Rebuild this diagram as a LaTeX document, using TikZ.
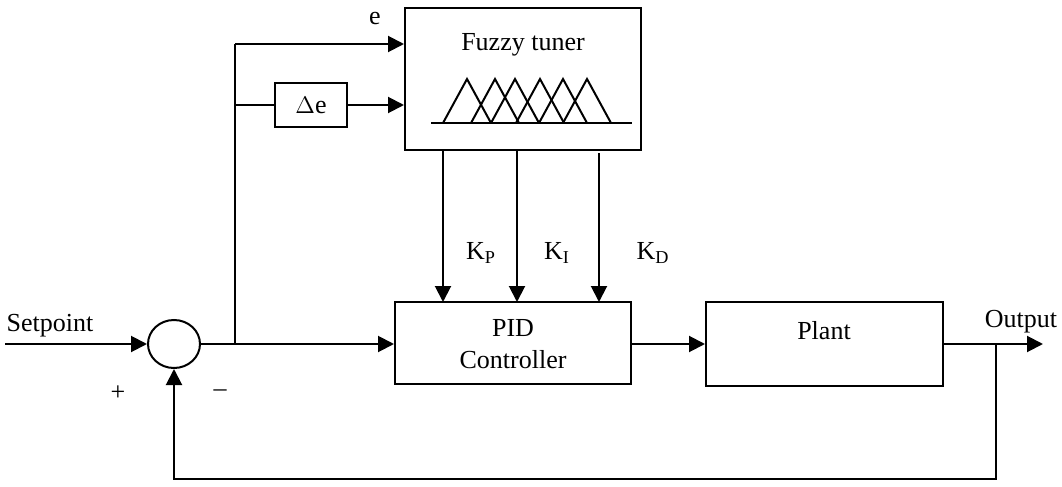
\documentclass[tikz,border=0pt]{standalone}
\usepackage{fontspec}
\setmainfont{Liberation Serif}
\usetikzlibrary{arrows.meta,shapes.geometric}
\begin{document}
\begin{tikzpicture}[x=0.5pt,y=-0.5pt,
  every node/.style={font=\fontsize{13}{15}\selectfont, inner sep=0pt},
  sig/.style={line width=1pt, -{Triangle[length=8pt,width=8pt]}},
  ln/.style={line width=1pt},
  mf/.style={line width=1pt}]
\useasboundingbox (0,0) rectangle (1062,487);
% boxes
\node[draw, line width=1pt, minimum width=118pt, minimum height=71pt] (fz) at (523,79) {};
\node (fzt) at (523,45) {Fuzzy tuner};
\node[draw, line width=1pt, minimum width=36pt, minimum height=22pt] (de) at (311,105) {$\Delta$e};
\node[draw, line width=1pt, minimum width=118pt, minimum height=41pt] (pid) at (513,342.5) {};
\node[align=center] (pidt) at (513,344) {PID\\[1pt]Controller};
\node[draw, line width=1pt, minimum width=118.5pt, minimum height=42pt] (pl) at (824.5,343.5) {};
\node (plt) at (824,331) {Plant};
\node[draw, ellipse, line width=1pt, minimum width=26pt, minimum height=24pt] (sum) at (174,344) {};
% membership functions
\draw[mf] (431,123) -- (632,123);
\foreach \p in {467,495,515,540,563,587}{
  \draw[mf, line join=miter] (\p-24,123) -- (\p,79) -- (\p+24,123);
}
% coordinates
\coordinate (sp) at (5,344);
\coordinate (br) at (235,344);
\coordinate (etop) at (235,44);
\coordinate (dej) at (235,105);
\coordinate (out) at (1043,344);
\coordinate (fb) at (996,344);
\coordinate (fb1) at (996,479);
\coordinate (fb2) at (174,479);
% signals
\draw[sig] (sp) -- (sum.west);
\draw[sig] (sum.east) -- (sum.east -| pid.west);
\draw[ln] (br) -- (etop);
\draw[sig] (etop) -- (etop -| fz.west);
\draw[ln] (dej) -- (de.west);
\draw[sig] (de.east) -- (de.east -| fz.west);
\draw[sig] (443,150) -- (443,302);
\draw[sig] (517,150) -- (517,302);
\draw[sig] (599,153) -- (599,302);
\draw[sig] (pid.east |- br) -- (pl.west |- br);
\draw[sig] (pl.east |- br) -- (out);
\draw[sig] (fb) -- (fb1) -- (fb2) -- (sum.south);
% labels
\node (le) at (375,19) {e};
\node (lkp) at (481,253) {K\textsubscript{P}};
\node (lki) at (557,253) {K\textsubscript{I}};
\node (lkd) at (653,253) {K\textsubscript{D}};
\node (lsp) at (50,326) {Setpoint};
\node (lout) at (1021,322) {Output};
\node (lplus) at (118,393) {+};
\node (lminus) at (220,393) {\textendash};
\end{tikzpicture}
\end{document}
